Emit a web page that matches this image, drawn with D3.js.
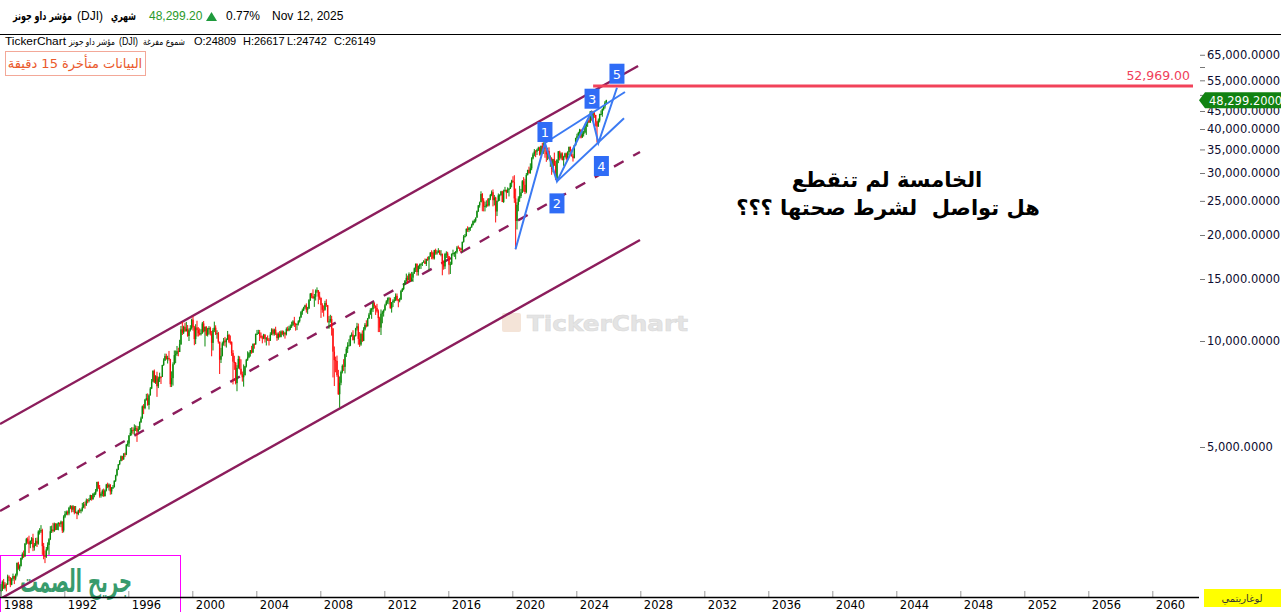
<!DOCTYPE html>
<html><head><meta charset="utf-8">
<script src="https://cdn.jsdelivr.net/npm/d3@7/dist/d3.min.js"></script>
<style>body{margin:0;background:#fff;overflow:hidden}svg{display:block}</style>
</head><body>
<svg id="chart" width="1281" height="612"></svg>
<script>
// ---- DATA (monthly DJI candles, Jan 1988 .. Nov 2025) ----
const startYear = 1988;
const opens = [
1939,1958,2071,1988,2032,2031,2142,2129,2032,2112,2149,2115,
2169,2342,2258,2294,2419,2480,2440,2661,2737,2693,2645,2706,
2753,2591,2627,2707,2657,2877,2881,2905,2615,2453,2442,2560,
2634,2736,2882,2914,2888,3028,2907,3025,3044,3017,3069,2895,
3169,3224,3267,3236,3359,3397,3319,3394,3257,3272,3226,3305,
3301,3310,3371,3435,3428,3527,3516,3540,3651,3555,3681,3684,
3754,3978,3832,3636,3682,3758,3625,3765,3913,3843,3908,3739,
3834,3844,4011,4158,4321,4465,4556,4709,4611,4789,4756,5075,
5117,5395,5486,5587,5569,5643,5655,5529,5616,5882,6029,6522,
6448,6813,6878,6584,7009,7331,7673,8223,7622,7945,7442,7823,
7908,7907,8546,8800,9063,8900,8952,8883,7539,7843,8592,9117,
9181,9359,9307,9786,10789,10560,10971,10655,10829,10337,10730,10878,
11497,10941,10128,10922,10734,10522,10448,10522,11215,10651,10971,10415,
10787,10887,10495,9879,10735,10912,10502,10523,9950,8848,9075,9852,
10021,9920,10106,10404,9946,9925,9243,8737,8664,7592,8397,8896,
8342,8054,7891,7992,8480,8850,8985,9234,9416,9275,9801,9782,
10454,10488,10584,10358,10226,10188,10435,10140,10174,10080,10027,10428,
10783,10490,10766,10504,10193,10467,10275,10641,10482,10569,10440,10806,
10718,10865,10993,11109,11367,11168,11150,11186,11381,11679,12081,12222,
12463,12622,12269,12354,13063,13628,13409,13212,13358,13896,13930,13372,
13265,12650,12266,12263,12820,12638,11350,11378,11544,10851,9325,8829,
8776,8001,7063,7609,8168,8500,8447,9172,9496,9712,9713,10345,
10428,10067,10325,10857,11009,10137,9774,10466,10015,10788,11118,11006,
11578,11892,12226,12320,12811,12570,12414,12143,11614,10913,11955,12046,
12218,12633,12952,13212,13214,12393,12880,13009,13091,13437,13096,13026,
13104,13861,14054,14579,14840,15116,14910,15500,14810,15130,15546,16086,
16577,15699,16322,16458,16581,16717,16827,16563,17098,17043,17391,17828,
17823,17165,18133,17776,17841,18011,17620,17690,16528,16285,17664,17720,
17425,16466,16517,17685,17774,17787,17930,18432,18401,18308,18142,19124,
19763,19864,20812,20663,20941,21009,21350,21891,21948,22405,23377,24272,
24809,26149,25029,24103,24163,24416,24271,25415,25965,26458,25116,25538,
23327,24999,25916,25929,26593,24815,26600,26864,26403,26917,27046,28051,
28538,28256,25409,21917,24346,25383,25813,26428,28430,27782,26502,29639,
30606,29983,30932,32982,33875,34529,34503,34935,35361,33844,35820,34484,
36338,35132,33893,34678,32977,32990,30775,32845,31510,28726,32733,34590,
33147,34086,32657,33274,34098,32908,34408,35560,34722,33508,33053,35951,
37690,38150,38996,39807,37816,38686,39119,40843,41563,42330,41763,44911,
42544,44545,43841,42002,40669,42270,44095,44131,45545,46398,47563];
const highs = [
2040,2090,2110,2065,2050,2170,2160,2135,2125,2185,2155,2185,
2350,2360,2320,2425,2510,2540,2665,2760,2770,2800,2715,2775,
2835,2670,2760,2765,2900,2940,3000,2930,2670,2540,2600,2680,
2755,2980,2990,3045,3050,3040,3040,3060,3050,3090,3075,3200,
3290,3300,3300,3380,3420,3410,3420,3400,3400,3280,3320,3350,
3340,3470,3490,3500,3570,3560,3580,3660,3650,3700,3720,3800,
3985,3990,3900,3720,3790,3810,3790,3930,3960,3940,3920,3850,
3900,4020,4170,4340,4470,4590,4730,4720,4800,4820,5100,5220,
5400,5660,5690,5690,5800,5760,5740,5730,5910,6100,6560,6620,
6850,7080,7100,7060,7400,7800,8260,8300,8000,8180,7920,8130,
7950,8560,8930,9210,9200,9080,9370,8900,8200,8700,9400,9400,
9680,9570,10080,11030,11330,11050,11270,11330,11100,10860,11090,11570,
11750,11040,11160,11420,10950,10860,10800,11330,11400,11000,11020,10900,
11020,10980,10680,10880,11350,11080,10730,10610,9960,9560,9960,10200,
10270,10180,10680,10480,10370,9980,9420,9080,8720,8540,9080,9050,
8870,8190,8580,8500,8900,9350,9300,9430,9690,9850,9860,10500,
10750,10760,10750,10570,10360,10480,10440,10260,10370,10200,10590,10870,
10850,10840,10980,10570,10580,10670,10720,10720,10700,10580,10930,10990,
11050,11140,11350,11460,11710,11260,11220,11460,11730,12170,12360,12510,
12680,12790,12500,13150,13690,13700,14020,13600,14010,14200,13960,13800,
13280,12800,12620,13010,13140,12660,11770,11870,11790,10880,9650,9030,
9090,8280,7930,8240,8580,8880,9200,9630,9920,10120,10410,10580,
10730,10400,10900,11260,11210,10600,10560,10720,10950,11250,11450,11630,
12020,12390,12420,12880,12880,12630,12750,12290,11720,12290,12190,12300,
12760,13060,13290,13340,13280,12900,13140,13330,13650,13640,13160,13260,
13970,14150,14590,14890,15540,15340,15660,15560,15710,15720,16170,16590,
16590,16400,16590,16600,16740,16960,17150,17130,17350,17400,17890,18100,
17950,18160,18290,18110,18350,18140,18120,17700,16930,17800,17980,17920,
17430,16800,17720,18170,17900,18020,18620,18670,18450,18400,19150,19990,
20130,20890,21170,21070,21110,21530,22000,22180,22420,23480,24330,24880,
26617,26310,25450,24860,25090,25400,25470,26170,26770,26950,25990,25680,
25060,26240,26110,26700,26700,26910,27400,26900,27310,27200,28170,28700,
29370,29570,27100,24770,25760,27580,27040,28650,29200,28900,30000,30640,
31270,31960,33260,34260,35090,34850,35170,35630,35630,35890,36570,36680,
36952,35820,35370,35490,33650,33270,32910,34280,32500,32800,34600,34710,
34340,34330,33570,34260,34260,34590,35680,35680,34980,33930,36010,37780,
38780,39280,40050,39890,40080,39560,41380,41590,42630,43330,44970,45074,
45050,45050,43900,42210,42850,44210,45170,45780,46760,48040,48430];
const lows = [
1880,1950,1975,1970,1945,2030,2080,2000,2025,2085,2040,2090,
2145,2240,2220,2290,2395,2420,2445,2640,2655,2500,2580,2650,
2530,2540,2615,2600,2640,2820,2850,2470,2400,2340,2420,2540,
2470,2720,2850,2860,2870,2900,2910,2900,2970,2960,2850,2860,
3140,3200,3200,3200,3330,3260,3270,3220,3240,3120,3200,3250,
3240,3280,3350,3340,3400,3460,3480,3530,3520,3540,3600,3650,
3730,3800,3590,3590,3620,3610,3620,3740,3820,3760,3660,3670,
3800,3840,3980,4130,4300,4440,4560,4570,4600,4680,4740,5020,
5000,5370,5390,5440,5420,5550,5170,5530,5590,5850,6020,6200,
6400,6770,6550,6390,7000,7300,7640,7600,7550,6940,7350,7650,
7550,7900,8500,8780,8850,8630,8800,7400,7400,7470,8570,8650,
9070,9050,9300,9750,10400,10470,10630,10650,10280,10000,10640,10770,
10700,9730,9800,10300,10300,10370,10370,10480,10580,9650,10330,10300,
10430,10370,9050,9400,10600,10400,10150,9830,8060,8660,9040,9700,
9660,9580,10060,9860,9770,9070,7530,8280,7530,7200,8340,8300,
7990,7670,7420,7990,8410,8780,8940,9030,9200,9250,9510,9760,
10400,10470,10000,10170,9850,10120,9900,9710,10000,9710,10000,10390,
10370,10360,10400,10010,10080,10230,10240,10390,10300,10160,10370,10660,
10660,10740,10890,11030,10960,10700,10740,11070,11280,11620,11870,12170,
12340,12040,11940,12350,12990,13230,13200,12500,13030,13700,12720,13090,
11630,12030,11730,12190,12500,11280,10830,11270,10360,7880,7450,8150,
7910,7030,6470,7490,8090,8220,8090,9010,9250,9680,9670,10280,
10030,9840,10300,10710,9760,9620,9690,9930,9990,10710,10930,11000,
11570,11880,11560,12090,12370,11860,12040,10600,10600,10400,11230,11730,
12200,12630,12750,12710,12350,12040,12490,12840,12980,12980,12470,12880,
13100,13780,13940,14440,14740,14550,14900,14760,14760,14720,15520,15700,
15340,15340,16000,16020,16330,16680,16560,16330,16880,15860,17340,17070,
17040,17040,17580,17580,17810,17580,17400,15370,15940,16010,17210,17140,
15450,15500,16450,17480,17330,17060,17710,18300,17990,17890,17880,19030,
19680,19830,20410,20380,20550,20990,21280,21600,21710,22400,23240,23920,
24742,23360,23340,23340,23920,24080,24110,25120,25770,24120,24270,21710,
22640,24880,25000,25900,24800,24680,26580,25340,26350,25740,27030,27320,
28170,24680,18214,20740,23360,24840,25480,26320,26540,26140,26270,29520,
29860,29860,30550,32790,33470,33270,33740,34640,33610,33610,34010,34000,
33150,32270,32630,32910,31230,29650,30140,31460,28720,28660,32000,32570,
32820,32570,31430,33200,32590,32600,33710,34030,33370,32330,33040,35920,
37050,38150,38420,37610,37790,38080,38900,38500,40560,41600,41660,42220,
41840,43010,40660,36612,40580,41760,43760,43340,45130,45730,46900];
const closes = [
1958,2071,1988,2032,2031,2142,2129,2032,2112,2149,2115,2169,
2342,2258,2294,2419,2480,2440,2661,2737,2693,2645,2706,2753,
2591,2627,2707,2657,2877,2881,2905,2615,2453,2442,2560,2634,
2736,2882,2914,2888,3028,2907,3025,3044,3017,3069,2895,3169,
3224,3267,3236,3359,3397,3319,3394,3257,3272,3226,3305,3301,
3310,3371,3435,3428,3527,3516,3540,3651,3555,3681,3684,3754,
3978,3832,3636,3682,3758,3625,3765,3913,3843,3908,3739,3834,
3844,4011,4158,4321,4465,4556,4709,4611,4789,4756,5075,5117,
5395,5486,5587,5569,5643,5655,5529,5616,5882,6029,6522,6448,
6813,6878,6584,7009,7331,7673,8223,7622,7945,7442,7823,7908,
7907,8546,8800,9063,8900,8952,8883,7539,7843,8592,9117,9181,
9359,9307,9786,10789,10560,10971,10655,10829,10337,10730,10878,11497,
10941,10128,10922,10734,10522,10448,10522,11215,10651,10971,10415,10787,
10887,10495,9879,10735,10912,10502,10523,9950,8848,9075,9852,10021,
9920,10106,10404,9946,9925,9243,8737,8664,7592,8397,8896,8342,
8054,7891,7992,8480,8850,8985,9234,9416,9275,9801,9782,10454,
10488,10584,10358,10226,10188,10435,10140,10174,10080,10027,10428,10783,
10490,10766,10504,10193,10467,10275,10641,10482,10569,10440,10806,10718,
10865,10993,11109,11367,11168,11150,11186,11381,11679,12081,12222,12463,
12622,12269,12354,13063,13628,13409,13212,13358,13896,13930,13372,13265,
12650,12266,12263,12820,12638,11350,11378,11544,10851,9325,8829,8776,
8001,7063,7609,8168,8500,8447,9172,9496,9712,9713,10345,10428,
10067,10325,10857,11009,10137,9774,10466,10015,10788,11118,11006,11578,
11892,12226,12320,12811,12570,12414,12143,11614,10913,11955,12046,12218,
12633,12952,13212,13214,12393,12880,13009,13091,13437,13096,13026,13104,
13861,14054,14579,14840,15116,14910,15500,14810,15130,15546,16086,16577,
15699,16322,16458,16581,16717,16827,16563,17098,17043,17391,17828,17823,
17165,18133,17776,17841,18011,17620,17690,16528,16285,17664,17720,17425,
16466,16517,17685,17774,17787,17930,18432,18401,18308,18142,19124,19763,
19864,20812,20663,20941,21009,21350,21891,21948,22405,23377,24272,24719,
26149,25029,24103,24163,24416,24271,25415,25965,26458,25116,25538,23327,
24999,25916,25929,26593,24815,26600,26864,26403,26917,27046,28051,28538,
28256,25409,21917,24346,25383,25813,26428,28430,27782,26502,29639,30606,
29983,30932,32982,33875,34529,34503,34935,35361,33844,35820,34484,36338,
35132,33893,34678,32977,32990,30775,32845,31510,28726,32733,34590,33147,
34086,32657,33274,34098,32908,34408,35560,34722,33508,33053,35951,37690,
38150,38996,39807,37816,38686,39119,40843,41563,42330,41763,44911,42544,
44545,43841,42002,40669,42270,44095,44131,45545,46398,47563,48299];

const xTickYears = [1988,1992,1996,2000,2004,2008,2012,2016,2020,2024,2028,2032,2036,2040,2044,2048,2052,2056,2060];
const yTickValues = [5000,10000,15000,20000,25000,30000,35000,40000,45000,50000,55000,60000,65000];
const yTickLabeled = [5000,10000,15000,20000,25000,30000,35000,40000,45000,55000,65000];

// trend channel (year, value) endpoints
const upperLineYears = [1987.98, 2027.86], upperLineValues = [5811, 60400];
const midLineYears   = [1987.98, 2027.98], midLineValues   = [3290, 34420];
const lowerLineYears = [1987.98, 2027.98], lowerLineValues = [1850, 19360];

// Elliott wave count
const waveYears  = [2020.2, 2022.04, 2022.79, 2024.92, 2025.38, 2026.54];
const waveValues = [18214, 36500, 28400, 44500, 36500, 52400];
const waveLabels = ["", "1", "2", "3", "4", "5"];
const waveTopYears = [2022.04, 2027.04], waveTopValues = [36500, 50950];
const waveBotYears = [2022.79, 2026.98], waveBotValues = [28400, 42900];

const resistanceValue = 52969, resistanceStartYear = 2025.05;
const lastPrice = 48299.20;

// ---- CHART ----
const W = 1281, H = 612;
const plotL = 0, plotR = 1196, plotT = 40, plotB = 597;
const svg = d3.select("#chart");
const x = d3.scaleLinear().domain([1987.98, 2062.73]).range([plotL, plotR]);
const y = d3.scaleLog().domain([1875, 71590]).range([plotB, plotT]);
const font = "'DejaVu Sans', sans-serif";
const latin = "'Liberation Sans', Arial, sans-serif";

svg.append("rect").attr("width", W).attr("height", H).attr("fill", "#fff");
svg.append("defs").append("clipPath").attr("id", "plotclip")
  .append("rect").attr("x", plotL).attr("y", plotT).attr("width", plotR - plotL).attr("height", plotB - plotT);

// watermark
const wm = svg.append("g");
wm.append("rect").attr("x", 502).attr("y", 313).attr("width", 19).attr("height", 19).attr("rx", 2)
  .attr("fill", "#f4e4d8");
wm.append("text").attr("x", 527).attr("y", 331).attr("font-family", font).attr("font-weight", "bold")
  .attr("font-size", 22).attr("textLength", 161).attr("lengthAdjust", "spacingAndGlyphs")
  .attr("fill", "#e4e4e4").attr("stroke", "#dadada").attr("stroke-width", 0.6).text("TickerChart");

// bottom-left signature
svg.append("rect").attr("x", 0.5).attr("y", 555.5).attr("width", 180).attr("height", 60)
  .attr("fill", "none").attr("stroke", "#ff00ff").attr("stroke-width", 1);
svg.append("text").attr("x", 20).attr("y", 592)
  .attr("font-family", font).attr("font-weight", "bold").attr("font-size", 31)
  .attr("textLength", 112).attr("lengthAdjust", "spacingAndGlyphs").attr("fill", "#389b6c")
  .text("جريح الصمت");

const plot = svg.append("g").attr("clip-path", "url(#plotclip)");

// channel lines
const lineGen = d3.line().x(d => x(d[0])).y(d => y(d[1]));
const chan = [[upperLineYears, upperLineValues, null], [midLineYears, midLineValues, "11,11"], [lowerLineYears, lowerLineValues, null]];
chan.forEach(([ys, vs, dash]) => {
  plot.append("path").datum(d3.zip(ys, vs)).attr("d", lineGen).attr("fill", "none")
    .attr("stroke", "#8c1d5c").attr("stroke-width", 2.4).attr("stroke-dasharray", dash);
});

// candles
const months = d3.range(closes.length);
const mx = i => x(startYear + (i + 0.5) / 12);
const col = i => closes[i] >= opens[i] ? "#0b8a0b" : "#ff0d0d";
plot.selectAll("line.wick").data(months).join("line").attr("class", "wick")
  .attr("x1", mx).attr("x2", mx).attr("y1", i => y(highs[i])).attr("y2", i => y(lows[i]))
  .attr("stroke", col).attr("stroke-width", 1);
plot.selectAll("rect.body").data(months).join("rect").attr("class", "body")
  .attr("x", i => mx(i) - 0.7).attr("width", 1.4)
  .attr("y", i => y(Math.max(opens[i], closes[i])))
  .attr("height", i => Math.max(1, Math.abs(y(opens[i]) - y(closes[i]))))
  .attr("fill", col);

// resistance line
plot.append("line").attr("x1", x(resistanceStartYear)).attr("x2", plotR - 3)
  .attr("y1", y(resistanceValue)).attr("y2", y(resistanceValue))
  .attr("stroke", "#f2425a").attr("stroke-width", 3);
svg.append("text").attr("x", 1190).attr("y", y(resistanceValue) - 6).attr("text-anchor", "end")
  .attr("font-family", font).attr("font-size", 12.5).attr("fill", "#f0405a")
  .text(d3.format(",.2f")(resistanceValue));

// wave lines
const blue = "#3b7af3";
plot.append("path").datum(d3.zip(waveYears, waveValues)).attr("d", lineGen)
  .attr("fill", "none").attr("stroke", blue).attr("stroke-width", 2);
[[waveTopYears, waveTopValues], [waveBotYears, waveBotValues]].forEach(([ys, vs]) => {
  plot.append("path").datum(d3.zip(ys, vs)).attr("d", lineGen)
    .attr("fill", "none").attr("stroke", blue).attr("stroke-width", 2);
});
const labelOffsets = [[0, 0], [0, -11], [0, 22], [1, -14], [3, 23], [0, -14]];
waveLabels.forEach((lab, i) => {
  if (!lab) return;
  const cx = x(waveYears[i]) + labelOffsets[i][0], cy = y(waveValues[i]) + labelOffsets[i][1];
  svg.append("rect").attr("x", cx - 7.5).attr("y", cy - 10).attr("width", 15).attr("height", 20)
    .attr("fill", "#2f6cf6");
  svg.append("text").attr("x", cx).attr("y", cy + 5).attr("text-anchor", "middle")
    .attr("font-family", font).attr("font-size", 13).attr("fill", "#fff").text(lab);
});

// annotation
svg.append("text").attr("x", 887).attr("y", 187).attr("text-anchor", "middle").attr("direction", "rtl")
  .attr("font-family", font).attr("font-weight", "bold").attr("font-size", 21).attr("fill", "#000")
  .text("الخامسة لم تنقطع");
svg.append("text").attr("x", 888).attr("y", 215).attr("text-anchor", "middle").attr("direction", "rtl")
  .attr("font-family", font).attr("font-weight", "bold").attr("font-size", 21).attr("fill", "#000")
  .style("white-space", "pre").text("هل تواصل  لشرط صحتها ؟؟؟");

// x axis
const xAxis = d3.axisBottom(x).tickValues(xTickYears).tickFormat(d3.format("d")).tickSize(-6).tickPadding(4);
const gx = svg.append("g").attr("transform", `translate(0,${plotB})`).call(xAxis);
gx.select(".domain").remove();
gx.selectAll(".tick line").attr("stroke", "#999");
gx.selectAll(".tick text").attr("text-anchor", "start").attr("dx", 3)
  .attr("font-family", font).attr("font-size", 11.5).attr("fill", "#000");
svg.append("line").attr("x1", 0).attr("x2", 1199).attr("y1", plotB + 0.5).attr("y2", plotB + 0.5)
  .attr("stroke", "#000").attr("stroke-width", 1.6);

// y axis
const yAxis = d3.axisRight(y).tickValues(yTickValues)
  .tickFormat(v => yTickLabeled.includes(v) ? d3.format(",.4f")(v) : "").tickSize(5).tickPadding(2);
const gy = svg.append("g").attr("transform", "translate(1200,0)").call(yAxis);
gy.select(".domain").remove();
gy.selectAll(".tick line").attr("stroke", "#777");
gy.selectAll(".tick text").attr("font-family", font).attr("font-size", 11.5).attr("fill", "#0c0c30");

// last price tag
const py = y(lastPrice);
svg.append("path").attr("d", `M1199,${py} L1205,${py - 8} L1281,${py - 8} L1281,${py + 8} L1205,${py + 8} Z`)
  .attr("fill", "#118211");
svg.append("text").attr("x", 1209).attr("y", py + 4.5).attr("font-family", font).attr("font-size", 11.5)
  .attr("fill", "#fff").text(d3.format(",.4f")(lastPrice));

// log badge
svg.append("rect").attr("x", 1204).attr("y", 589).attr("width", 77).attr("height", 18).attr("fill", "#ffff00");
svg.append("text").attr("x", 1242).attr("y", 602).attr("text-anchor", "middle").attr("font-family", font)
  .attr("font-size", 10).attr("fill", "#333").text("لوغاريتمي");

// header
svg.append("line").attr("x1", 0).attr("x2", W).attr("y1", 34.5).attr("y2", 34.5).attr("stroke", "#000").attr("stroke-width", 1);
const hdr = (t, xx, yy, o) => {
  const s = svg.append("text").attr("x", xx).attr("y", yy).attr("font-family", o.f || latin)
    .attr("font-size", o.s || 11).attr("fill", o.c || "#000").text(t);
  if (o.b) s.attr("font-weight", "bold");
  if (o.w) s.attr("textLength", o.w).attr("lengthAdjust", "spacingAndGlyphs");
  return s;
};
hdr("مؤشر داو جونز", 13, 20, {f: font, b: 1, s: 11.5, w: 59});
hdr("(DJI)", 77, 20, {s: 12});
hdr("شهري", 111, 20, {f: font, b: 1, s: 11.5, w: 25});
hdr("48,299.20", 149, 20, {s: 12, c: "#2a9a2a"});
svg.append("path").attr("d", "M206,21 L211.5,12 L217,21 Z").attr("fill", "#1e9a3c");
hdr("0.77%", 226, 20, {s: 12});
hdr("Nov 12, 2025", 272, 20, {s: 12});

hdr("TickerChart", 5, 45, {s: 11, w: 61});
hdr("مؤشر داو جونز", 69, 45, {f: font, s: 9.5, w: 46});
hdr("(DJI)", 119, 45, {s: 11, w: 19});
hdr("شموع مفرغة", 143, 45, {f: font, s: 9.5, w: 42});
hdr("O:24809", 194, 45, {s: 11});
hdr("H:26617", 243, 45, {s: 11});
hdr("L:24742", 287, 45, {s: 11});
hdr("C:26149", 334, 45, {s: 11});

svg.append("rect").attr("x", 5.5).attr("y", 51.5).attr("width", 140).attr("height", 24)
  .attr("fill", "#fff").attr("stroke", "#f3a898").attr("stroke-width", 1);
svg.append("text").attr("x", 75).attr("y", 68).attr("text-anchor", "middle").attr("direction", "rtl")
  .attr("font-family", font).attr("font-size", 13).attr("fill", "#ea5a2c").text("البيانات متأخرة 15 دقيقة");
</script>
</body></html>
